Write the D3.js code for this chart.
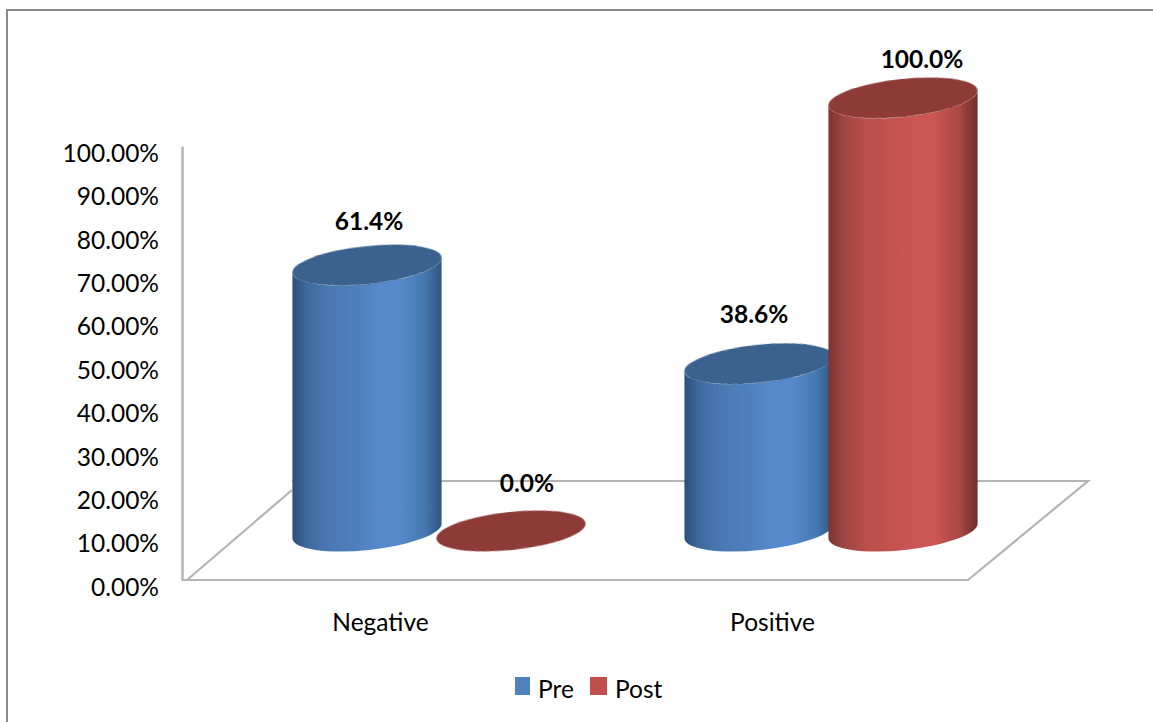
<!DOCTYPE html>
<html>
<head>
<meta charset="utf-8">
<script src="https://cdn.jsdelivr.net/npm/d3@7"></script>
<style>
html,body{margin:0;padding:0;background:#fff;}
svg{display:block;}
text{font-family:Lato,"Open Sans",sans-serif;fill:#000;}
</style>
</head>
<body>
<svg id="chart" width="1153" height="722"></svg>
<script>
const categories = ["Negative", "Positive"];
const seriesNames = ["Pre", "Post"];
const preValues = [61.4, 38.6];
const postValues = [0.0, 100.0];
const axisTicks = [0, 10, 20, 30, 40, 50, 60, 70, 80, 90, 100];

const svg = d3.select("#chart");
const defs = svg.append("defs");

// Shading across a cylinder: dark rims, lit centre
const palette = {
  Pre:  {top: "#3a628f", stops: ["#2c4f78", "#3f6a9f", "#4a78b2", "#4f7fbd", "#568acd", "#5589cb", "#4679b2", "#2f5580"], key: "#4f81bd"},
  Post: {top: "#8e3a38", stops: ["#7a3432", "#9c4442", "#b84e4b", "#c2524f", "#cc5654", "#ca5552", "#a94745", "#6b2d2b"], key: "#c0504d"}
};
const stopAt = [0, 0.1, 0.24, 0.42, 0.6, 0.72, 0.88, 1];
seriesNames.forEach(name => {
  const g = defs.append("linearGradient").attr("id", "shade" + name)
    .attr("x1", 0).attr("x2", 1).attr("y1", 0).attr("y2", 0);
  palette[name].stops.forEach((c, i) => g.append("stop").attr("offset", stopAt[i]).attr("stop-color", c));
});
const soft = defs.append("filter").attr("id", "soft")
  .attr("x", "-5%").attr("y", "-5%").attr("width", "110%").attr("height", "110%");
soft.append("feGaussianBlur").attr("stdDeviation", 0.5);

// Outer frame: left and top edges only
svg.append("path")
  .attr("d", d3.line()([[7, 722], [7, 10], [1153, 10]]))
  .attr("fill", "none").attr("stroke", "#8a8a8a").attr("stroke-width", 2);

// Scales: printed axis, cylinder height, category placement
const yAxisScale = d3.scaleLinear().domain([0, 100]).range([580, 146]);
const yBar = d3.scaleLinear().domain([0, 100]).range([531, 98]);
const xCat = d3.scalePoint().domain(categories).range([380, 772]);
const groupShift = 59;
const xSeries = d3.scalePoint().domain(seriesNames).range([-72, 72]);

// Floor of the 3D plot
const floorStyle = sel => sel.attr("fill", "none").attr("stroke", "#b4b4b4").attr("stroke-width", 2.2);
svg.append("path")
  .attr("d", d3.line()([[187, 580], [292, 490]])).call(floorStyle);
svg.append("path")
  .attr("d", d3.line()([[292, 481], [1088, 481], [968, 580], [182, 580]])).call(floorStyle);

// Value axis
const yAxis = d3.axisLeft(yAxisScale)
  .tickValues(axisTicks)
  .tickFormat(d => d.toFixed(2) + "%")
  .tickSize(0).tickPadding(23);
const yG = svg.append("g").attr("transform", "translate(182,0)").call(yAxis);
yG.select(".domain").attr("stroke", "#b4b4b4").attr("stroke-width", 2.5);
yG.selectAll("text").attr("font-size", 24.5).attr("dy", "0.62em").attr("fill", "#000");

// Category axis
const xAxis = d3.axisBottom(xCat).tickSize(0).tickPadding(0);
const xG = svg.append("g").attr("transform", "translate(0,614)").call(xAxis);
xG.select(".domain").remove();
xG.selectAll("text").attr("font-size", 24.5).attr("fill", "#000").attr("dy", "0.71em");

// Cylinders
const RX = 75, RY = 19, TILT = -6;
const rad = TILT * Math.PI / 180;
const ellipseEdge = (cx, cy, side) => [cx + side * RX * Math.cos(rad), cy + side * RX * Math.sin(rad)];

function bodyPath(cx, yTop, yBase) {
  const [lx0, ly0] = ellipseEdge(cx, yTop, -1);
  const [rx0, ry0] = ellipseEdge(cx, yTop, 1);
  const [lx1, ly1] = ellipseEdge(cx, yBase, -1);
  const [rx1, ry1] = ellipseEdge(cx, yBase, 1);
  return `M${lx0},${ly0} L${lx1},${ly1} A${RX},${RY} ${TILT} 0 0 ${rx1},${ry1} L${rx0},${ry0} A${RX},${RY} ${TILT} 0 1 ${lx0},${ly0} Z`;
}

const labelNudge = {
  "Negative|Pre": [2, -35], "Negative|Post": [16, -39],
  "Positive|Pre": [-5, -41], "Positive|Post": [19, -30]
};

const rows = categories.flatMap((c, i) => [
  {category: c, series: "Pre", value: preValues[i]},
  {category: c, series: "Post", value: postValues[i]}
]);

const marks = svg.selectAll("g.cyl").data(rows).join("g").attr("class", "cyl");
marks.each(function(d) {
  const g = d3.select(this);
  const cx = xCat(d.category) + groupShift + xSeries(d.series);
  const yTop = yBar(d.value), yBase = yBar(0);
  if (d.value > 0) {
    g.append("path").attr("d", bodyPath(cx, yTop, yBase))
      .attr("fill", `url(#shade${d.series})`).attr("filter", "url(#soft)");
  }
  g.append("ellipse").attr("cx", cx).attr("cy", yTop).attr("rx", RX).attr("ry", RY)
    .attr("transform", `rotate(${TILT} ${cx} ${yTop})`)
    .attr("fill", palette[d.series].top).attr("filter", "url(#soft)");
});

// Data labels sit above the marks
rows.forEach(d => {
  const cx = xCat(d.category) + groupShift + xSeries(d.series);
  const [dx, dy] = labelNudge[d.category + "|" + d.series];
  svg.append("text").attr("x", cx + dx).attr("y", yBar(d.value) + dy)
    .attr("text-anchor", "middle").attr("font-size", 24.5).attr("font-weight", 700)
    .text(d.value.toFixed(1) + "%");
});

// Legend
const legendItems = [{x: 515, w: 15, tx: 538}, {x: 590, w: 17, tx: 615}];
seriesNames.forEach((name, i) => {
  const it = legendItems[i];
  svg.append("rect").attr("x", it.x).attr("y", 677).attr("width", it.w).attr("height", 18)
    .attr("fill", palette[name].key);
  svg.append("text").attr("x", it.tx).attr("y", 698).attr("font-size", 24.5).text(name);
});
</script>
</body>
</html>
